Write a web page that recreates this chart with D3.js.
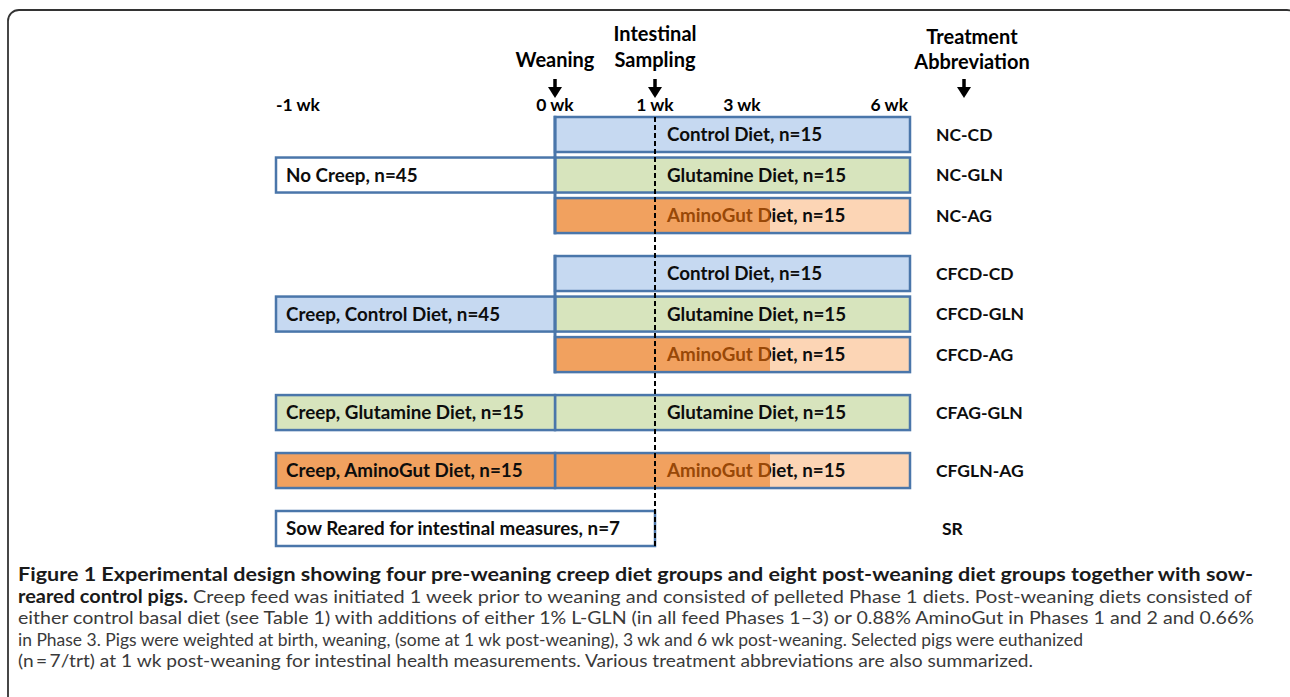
<!DOCTYPE html>
<html>
<head>
<meta charset="utf-8">
<script src="https://cdn.jsdelivr.net/npm/d3@7"></script>
<style>
  body { margin: 0; background: #fff; }
</style>
</head>
<body>
<svg id="figure"></svg>
<script>
/*
Experimental design: creep / post-weaning diet groups
*/

// time axis (weeks relative to weaning)
const weeks = [-1, 0, 1, 3, 6];
const weekLabels = ["-1 wk", "0 wk", "1 wk", "3 wk", "6 wk"];
const phase3Start = 3.5; // AminoGut dose lowered in phase 3

// events marked with an arrow above the axis
const eventWeeks = [0, 1];
const eventLabels = [["Weaning"], ["Intestinal", "Sampling"]];

// one row per treatment
const treatments = ["NC-CD", "NC-GLN", "NC-AG", "CFCD-CD", "CFCD-GLN", "CFCD-AG", "CFAG-GLN", "CFGLN-AG", "SR"];
const rowGroup = [0, 0, 0, 1, 1, 1, 2, 3, 4];
const postDiet = ["Control", "Glutamine", "AminoGut", "Control", "Glutamine", "AminoGut", "Glutamine", "AminoGut", null];
const postLabels = ["Control Diet, n=15", "Glutamine Diet, n=15", "AminoGut Diet, n=15",
                    "Control Diet, n=15", "Glutamine Diet, n=15", "AminoGut Diet, n=15",
                    "Glutamine Diet, n=15", "AminoGut Diet, n=15", null];

// pre-weaning boxes (creep period)
const preRow = [1, 4, 6, 7, 8];
const preDiet = ["None", "Control", "Glutamine", "AminoGut", "None"];
const preEnd = [0, 0, 0, 0, 1];
const preLabels = ["No Creep, n=45", "Creep, Control Diet, n=45", "Creep, Glutamine Diet, n=15",
                   "Creep, AminoGut Diet, n=15", "Sow Reared for intestinal measures, n=7"];

const captionLines = [
  [["Figure 1 Experimental design showing four pre-weaning creep diet groups and eight post-weaning diet groups together with sow-", true]],
  [["reared control pigs.", true], [" Creep feed was initiated 1 week prior to weaning and consisted of pelleted Phase 1 diets. Post-weaning diets consisted of", false]],
  [["either control basal diet (see Table 1) with additions of either 1% L-GLN (in all feed Phases 1\u20133) or 0.88% AminoGut in Phases 1 and 2 and 0.66%", false]],
  [["in Phase 3. Pigs were weighted at birth, weaning, (some at 1 wk post-weaning), 3 wk and 6 wk post-weaning. Selected pigs were euthanized", false]],
  [["(n\u2009=\u20097/trt) at 1 wk post-weaning for intestinal health measurements. Various treatment abbreviations are also summarized.", false]]
];
const captionRight = [1253, 1252, 1254, 1083, 1033];

var width = 1290, height = 697;
const font = "Lato, 'Open Sans', sans-serif";

const svg = d3.select("#figure")
  .attr("width", width)
  .attr("height", height)
  .attr("font-family", font);

const fill = d3.scaleOrdinal()
  .domain(["None", "Control", "Glutamine", "AminoGut"])
  .range(["#ffffff", "#c6d9f1", "#d7e4bd", "#f1a15f"]);
const peach = "#fcd5b5";
const edge = "#4a76aa";

// weeks -> x (piecewise, the drawing is not to scale)
const x = d3.scaleLinear().domain(weeks).range([276, 555, 655, 742, 910]);

// rows -> y, with a gap between groups
const gap = 0.43;
const rowPos = treatments.map((t, i) => i + rowGroup[i] * gap);
const y = d3.scaleLinear().domain([0, d3.max(rowPos)]).range([117, 511]);
const barH = 35;

// outer frame
svg.append("rect")
  .attr("x", 8).attr("y", 10)
  .attr("width", 1290).attr("height", 700)
  .attr("rx", 11)
  .attr("fill", "none")
  .attr("stroke", "#333")
  .attr("stroke-width", 1.8);

const chart = svg.append("g");
const defs = svg.append("defs");

//week labels
chart.selectAll("text.week")
  .data(weeks)
  .enter().append("text")
  .attr("class", "week")
  .attr("x", d => d == 6 ? x(d) - 2 : x(d))
  .attr("y", 111)
  .attr("text-anchor", (d, i) => i == 0 ? "start" : (i == weeks.length - 1 ? "end" : "middle"))
  .attr("font-size", 17.5)
  .attr("font-weight", 700)
  .text((d, i) => weekLabels[i]);

function arrow(g, cx) {
  g.append("line")
    .attr("x1", cx).attr("x2", cx)
    .attr("y1", 79).attr("y2", 89)
    .attr("stroke", "#000").attr("stroke-width", 3.5);
  g.append("path")
    .attr("d", `M${cx - 7},87 L${cx + 7},87 L${cx},98 Z`)
    .attr("fill", "#000");
}

// event labels + arrows
eventWeeks.forEach((w, i) => {
  const lines = eventLabels[i];
  lines.forEach((l, j) => {
    chart.append("text")
      .attr("x", x(w))
      .attr("y", 67 - (lines.length - 1 - j) * 26)
      .attr("text-anchor", "middle")
      .attr("font-size", 20)
      .attr("font-weight", 700)
      .text(l);
  });
  arrow(chart, x(w));
});

// treatment abbreviation header
const abbrX = x(6) + 26;
["Treatment", "Abbreviation"].forEach((l, j) => {
  chart.append("text")
    .attr("x", abbrX + 36)
    .attr("y", 44 + j * 25)
    .attr("text-anchor", "middle")
    .attr("font-size", 20)
    .attr("font-weight", 700)
    .text(l);
});
arrow(chart, abbrX + 28);

// post-weaning bars
const post = treatments.map((t, i) => ({t: t, i: i, diet: postDiet[i], label: postLabels[i]}))
  .filter(d => d.diet);

const bars = chart.selectAll("g.post")
  .data(post)
  .enter().append("g")
  .attr("class", "post");

bars.append("rect")
  .attr("x", x(0))
  .attr("y", d => y(rowPos[d.i]))
  .attr("width", x(6) - x(0))
  .attr("height", barH)
  .attr("fill", d => d.diet == "AminoGut" ? peach : fill(d.diet));

// darker phase 1-2 part of the AminoGut bars
bars.filter(d => d.diet == "AminoGut")
  .append("rect")
  .attr("x", x(0))
  .attr("y", d => y(rowPos[d.i]))
  .attr("width", x(phase3Start) - x(0))
  .attr("height", barH)
  .attr("fill", fill("AminoGut"));

bars.append("rect")
  .attr("x", x(0))
  .attr("y", d => y(rowPos[d.i]))
  .attr("width", x(6) - x(0))
  .attr("height", barH)
  .attr("fill", "none")
  .attr("stroke", edge)
  .attr("stroke-width", 2.5);

// clip paths so the AminoGut label changes colour at phase 3
post.filter(d => d.diet == "AminoGut").forEach(d => {
  defs.append("clipPath").attr("id", "clipA" + d.i)
    .append("rect")
    .attr("x", x(0)).attr("y", y(rowPos[d.i]))
    .attr("width", x(phase3Start) - x(0)).attr("height", barH);
  defs.append("clipPath").attr("id", "clipB" + d.i)
    .append("rect")
    .attr("x", x(phase3Start)).attr("y", y(rowPos[d.i]))
    .attr("width", x(6) - x(phase3Start)).attr("height", barH);
});

function barText(sel) {
  return sel.append("text")
    .attr("x", x(1) + 12)
    .attr("y", d => y(rowPos[d.i]) + barH / 2)
    .attr("dy", "0.36em")
    .attr("font-size", 18.8)
    .attr("font-weight", 700)
    .text(d => d.label);
}

barText(bars.filter(d => d.diet != "AminoGut")).attr("fill", "#0d0d0d");
barText(bars.filter(d => d.diet == "AminoGut"))
  .attr("fill", "#984807")
  .attr("clip-path", d => `url(#clipA${d.i})`);
barText(bars.filter(d => d.diet == "AminoGut"))
  .attr("fill", "#0d0d0d")
  .attr("clip-path", d => `url(#clipB${d.i})`);

// pre-weaning boxes
const pre = preRow.map((r, k) => ({i: r, diet: preDiet[k], end: preEnd[k], label: preLabels[k]}));

const pres = chart.selectAll("g.pre")
  .data(pre)
  .enter().append("g")
  .attr("class", "pre");

pres.append("rect")
  .attr("x", x(-1))
  .attr("y", d => y(rowPos[d.i]))
  .attr("width", d => x(d.end) - x(-1))
  .attr("height", barH)
  .attr("fill", d => fill(d.diet))
  .attr("stroke", edge)
  .attr("stroke-width", 2.5);

pres.append("text")
  .attr("x", x(-1) + 10)
  .attr("y", d => y(rowPos[d.i]) + barH / 2)
  .attr("dy", "0.36em")
  .attr("font-size", 18.8)
  .attr("font-weight", 700)
  .attr("fill", "#0d0d0d")
  .text(d => d.label);

// bracket joining the post-weaning bars of groups split at weaning
d3.groups(post.filter(d => rowGroup[d.i] < 2), d => rowGroup[d.i]).forEach(([g, rows]) => {
  const top = d3.min(rows, d => y(rowPos[d.i]));
  const bot = d3.max(rows, d => y(rowPos[d.i])) + barH;
  chart.append("line")
    .attr("x1", x(0)).attr("x2", x(0))
    .attr("y1", top - 1.25).attr("y2", bot + 1.25)
    .attr("stroke", edge)
    .attr("stroke-width", 3);
});

// intestinal sampling line
chart.append("line")
  .attr("x1", x(1)).attr("x2", x(1))
  .attr("y1", y(0))
  .attr("y2", y(rowPos[8]) + barH)
  .attr("stroke", "#000")
  .attr("stroke-width", 2)
  .attr("stroke-dasharray", "5,3");

// abbreviations
chart.selectAll("text.abbr")
  .data(treatments)
  .enter().append("text")
  .attr("class", "abbr")
  .attr("x", (d, i) => d == "SR" ? abbrX + 6 : abbrX)
  .attr("y", (d, i) => y(rowPos[i]) + barH / 2)
  .attr("dy", "0.36em")
  .attr("font-size", 17.5)
  .attr("font-weight", 700)
  .attr("fill", "#0d0d0d")
  .text(d => d);

// caption
const cap = svg.append("g");
captionLines.forEach((parts, k) => {
  const t = cap.append("text")
    .attr("x", 18)
    .attr("y", 581 + k * 21.5)
    .attr("font-size", 18)
    .attr("fill", "#3a3a3a");
  parts.forEach(p => {
    t.append("tspan")
      .attr("font-weight", p[1] ? 700 : 400)
      .attr("fill", p[1] ? "#1a1a1a" : "#3a3a3a")
      .text(p[0]);
  });
  t.attr("textLength", captionRight[k] - 18)
    .attr("lengthAdjust", "spacingAndGlyphs");
});
</script>
</body>
</html>
